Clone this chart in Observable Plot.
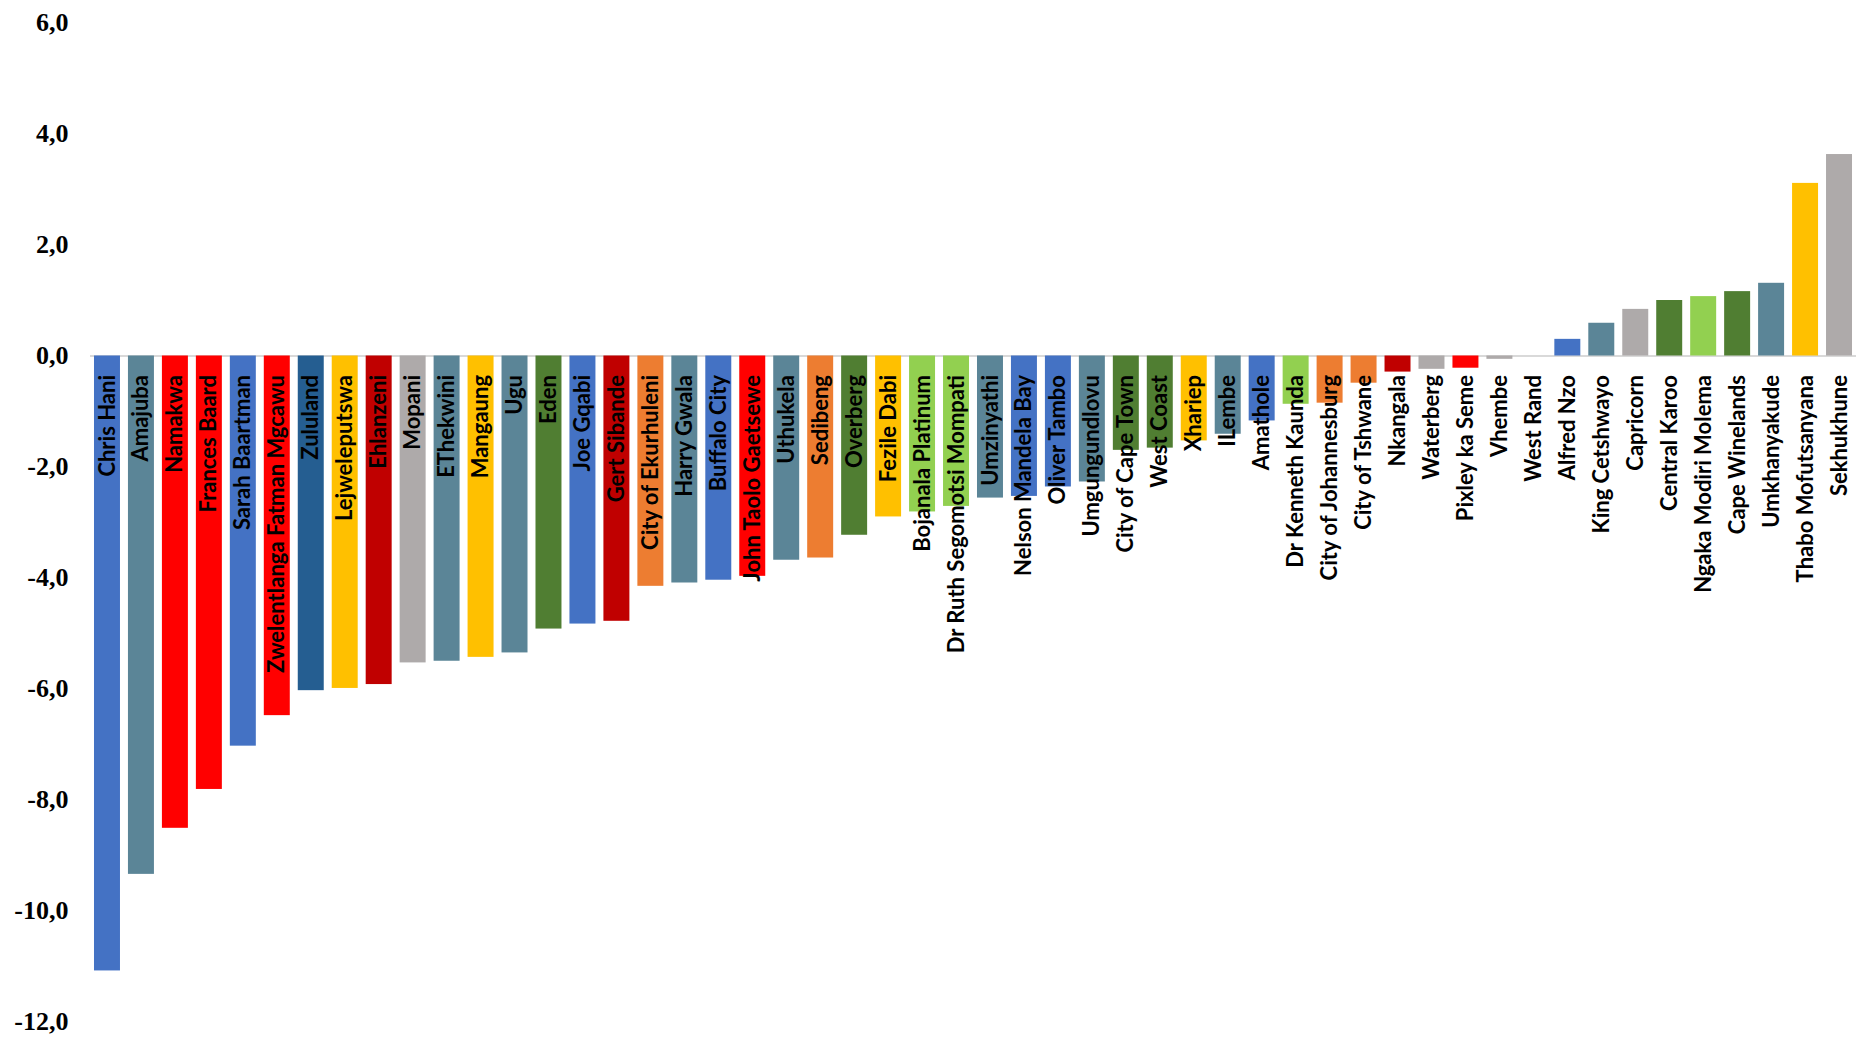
<!DOCTYPE html>
<html>
<head>
<meta charset="utf-8">
<script src="https://cdn.jsdelivr.net/npm/d3@7"></script>
<script src="https://cdn.jsdelivr.net/npm/@observablehq/plot@0.6"></script>
<style>
  html, body { margin: 0; padding: 0; background: #fff; }
  #chart svg { display: block; }
</style>
</head>
<body>
<div id="chart"></div>
<script>
const districts = [
  "Chris Hani", "Amajuba", "Namakwa", "Frances Baard", "Sarah Baartman",
  "Zwelentlanga Fatman Mgcawu", "Zululand", "Lejweleputswa", "Ehlanzeni", "Mopani",
  "EThekwini", "Mangaung", "Ugu", "Eden", "Joe Gqabi", "Gert Sibande",
  "City of Ekurhuleni", "Harry Gwala", "Buffalo City", "John Taolo Gaetsewe",
  "Uthukela", "Sedibeng", "Overberg", "Fezile Dabi", "Bojanala Platinum",
  "Dr Ruth Segomotsi Mompati", "Umzinyathi", "Nelson Mandela Bay", "Oliver Tambo",
  "Umgungundlovu", "City of Cape Town", "West Coast", "Xhariep", "ILembe", "Amathole",
  "Dr Kenneth Kaunda", "City of Johannesburg", "City of Tshwane", "Nkangala", "Waterberg",
  "Pixley ka Seme", "Vhembe", "West Rand", "Alfred Nzo", "King Cetshwayo", "Capricorn",
  "Central Karoo", "Ngaka Modiri Molema", "Cape Winelands", "Umkhanyakude",
  "Thabo Mofutsanyana", "Sekhukhune"
];

const values = [
  -11.08, -9.34, -8.51, -7.81, -7.03,
  -6.48, -6.03, -5.99, -5.92, -5.53,
  -5.50, -5.43, -5.35, -4.92, -4.83, -4.78,
  -4.15, -4.09, -4.04, -3.97,
  -3.68, -3.64, -3.23, -2.90, -2.81,
  -2.71, -2.56, -2.53, -2.36,
  -2.27, -1.70, -1.66, -1.53, -1.41, -1.17,
  -0.87, -0.85, -0.49, -0.29, -0.24,
  -0.22, -0.06, 0.0, 0.30, 0.59, 0.84,
  1.00, 1.07, 1.16, 1.31,
  3.11, 3.63
];

const provinces = [
  "EC", "KZN", "NC", "NC", "EC",
  "NC", "KZN-Z", "FS", "MP", "LP",
  "KZN", "FS", "KZN", "WC", "EC", "MP",
  "GP", "KZN", "EC", "NC",
  "KZN", "GP", "WC", "FS", "NW",
  "NW", "KZN", "EC", "EC",
  "KZN", "WC", "WC", "FS", "KZN", "EC",
  "NW", "GP", "GP", "MP", "LP",
  "NC", "LP", "GP", "EC", "KZN", "LP",
  "WC", "NW", "WC", "KZN",
  "FS", "LP"
];

const provinceKeys = ["EC", "KZN", "KZN-Z", "NC", "FS", "MP", "LP", "WC", "GP", "NW"];
const provinceColors = ["#4472C4", "#5B8597", "#255E91", "#FF0000", "#FFC000", "#C00000", "#AEAAAA", "#507E32", "#ED7D31", "#92D050"];

const yTicks = [-12, -10, -8, -6, -4, -2, 0, 2, 4, 6];

const data = districts.map((name, i) => ({name, value: values[i], province: provinces[i]}));

const chart = Plot.plot({
  width: 1856,
  height: 1037,
  marginLeft: 90,
  marginRight: 0,
  marginTop: 22.5,
  marginBottom: 15.5,
  style: {
    fontFamily: "'Liberation Serif', 'Times New Roman', serif",
    fontSize: "26px",
    fontWeight: "bold",
    color: "#000",
    background: "#fff"
  },
  x: {
    domain: districts,
    type: "band",
    paddingInner: 0.235,
    paddingOuter: 0.1175,
    axis: null
  },
  y: {
    domain: [-12, 6],
    ticks: yTicks,
    tickFormat: d => d.toFixed(1).replace(".", ","),
    tickSize: 0,
    tickPadding: 22,
    label: null
  },
  color: {
    domain: provinceKeys,
    range: provinceColors
  },
  marks: [
    Plot.ruleY([0], {stroke: "#D9D9D9", strokeWidth: 2}),
    Plot.barY(data, {x: "name", y: "value", fill: "province"}),
    Plot.text(data, {
      x: "name",
      y: () => 0,
      text: "name",
      rotate: -90,
      textAnchor: "end",
      dy: 19,
      fill: "#000",
      fontFamily: "Lato, 'Open Sans', sans-serif",
      fontSize: 22,
      fontWeight: "bold"
    })
  ]
});

document.getElementById("chart").appendChild(chart);
</script>
</body>
</html>
